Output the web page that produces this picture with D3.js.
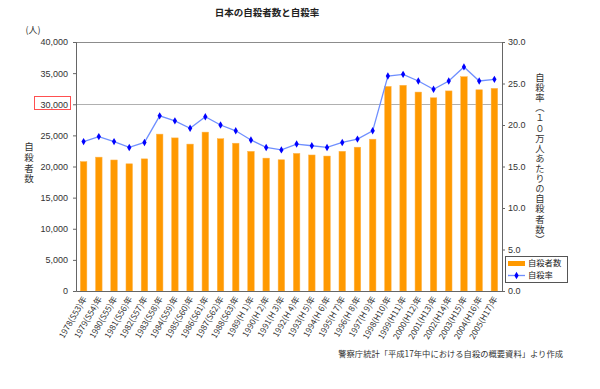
<!DOCTYPE html>
<html><head><meta charset="utf-8">
<script src="https://cdn.jsdelivr.net/npm/d3@7"></script>
<style>
body{margin:0;background:#fff;}
svg{display:block;}
text{font-family:"Liberation Sans",Arial,sans-serif;}
.jp{font-family:"Noto Sans CJK JP",sans-serif;}
</style></head>
<body><svg id="c" width="600" height="389"></svg>
<script>
const years = ["1978(S53)年","1979(S54)年","1980(S55)年","1981(S56)年","1982(S57)年","1983(S58)年","1984(S59)年","1985(S60)年","1986(S61)年","1987(S62)年","1988(S63)年","1989(H 1)年","1990(H 2)年","1991(H 3)年","1992(H 4)年","1993(H 5)年","1994(H 6)年","1995(H 7)年","1996(H 8)年","1997(H 9)年","1998(H10)年","1999(H11)年","2000(H12)年","2001(H13)年","2002(H14)年","2003(H15)年","2004(H16)年","2005(H17)年"];
const suicides = [20788,21503,21048,20434,21228,25202,24596,23599,25524,24460,23742,22436,21346,21084,22104,21851,21679,22445,23104,24391,32863,33048,31957,31042,32143,34427,32325,32552];
const rates = [18.0,18.6,18.0,17.3,17.9,21.1,20.5,19.6,21.0,20.0,19.3,18.2,17.3,17.0,17.7,17.5,17.3,17.9,18.3,19.3,25.9,26.1,25.3,24.3,25.3,27.0,25.3,25.5];
const leftTicks = [0,5000,10000,15000,20000,25000,30000,35000,40000];
const rightTicks = [0,5,10,15,20,25,30];
const title = "日本の自殺者数と自殺率";
const leftLabel = "自殺者数";
const rightLabel = "自殺率（１０万人あたりの自殺者数）";
const legendItems = ["自殺者数","自殺率"];
const source = "警察庁統計「平成17年中における自殺の概要資料」より作成";

const svg = d3.select("#c");
const L=76, R=502, T=42, B=291;
const x = d3.scaleBand().domain(years).range([L,R]).paddingInner(0.57).paddingOuter(0.285);
const yL = d3.scaleLinear().domain([0,40000]).range([B,T]);
const yR = d3.scaleLinear().domain([0,30]).range([B,T]);

// title
svg.append("text").attr("class","jp").attr("x",267).attr("y",16).attr("text-anchor","middle")
  .attr("font-size",9.5).attr("font-weight","bold").attr("fill","#222").text(title);

// top border & gridline
svg.append("line").attr("x1",L).attr("x2",R).attr("y1",T+0.5).attr("y2",T+0.5).attr("stroke","#8c8c8c");
svg.append("line").attr("x1",L).attr("x2",R).attr("y1",Math.round(yL(30000))+0.5).attr("y2",Math.round(yL(30000))+0.5).attr("stroke","#b0b0b0");

// bars
svg.append("g").selectAll("rect").data(suicides).join("rect")
  .attr("x",(d,i)=>x(years[i])).attr("width",x.bandwidth())
  .attr("y",d=>yL(d)).attr("height",d=>B-yL(d))
  .attr("fill","#ff9900").attr("stroke","#ffb54d").attr("stroke-width",0.5);

// axes
const gl = svg.append("g").attr("transform",`translate(${L},0)`)
  .call(d3.axisLeft(yL).tickValues(leftTicks).tickSize(3).tickFormat(d3.format(",")));
gl.select(".domain").attr("stroke","#666");
gl.selectAll(".tick line").attr("stroke","#666");
gl.selectAll(".tick text").attr("x",-8).attr("font-size",9).attr("fill","#333").attr("font-family","Liberation Sans, Arial, sans-serif");

const gr = svg.append("g").attr("transform",`translate(${R},0)`)
  .call(d3.axisRight(yR).tickValues(rightTicks).tickSize(3).tickFormat(d3.format(".1f")));
gr.select(".domain").attr("stroke","#666");
gr.selectAll(".tick line").attr("stroke","#666");
gr.selectAll(".tick text").attr("x",6).attr("font-size",9).attr("fill","#333").attr("font-family","Liberation Sans, Arial, sans-serif");

const gx = svg.append("g").attr("transform",`translate(0,${B})`)
  .call(d3.axisBottom(x).tickSize(0).tickFormat(""));
gx.select(".domain").attr("stroke","#666");
gx.selectAll(".tick").remove();

// x labels
svg.append("g").selectAll("text").data(years).join("text")
  .attr("class","jp")
  .attr("transform",d=>`translate(${x(d)+x.bandwidth()/2+1},${B+6}) rotate(-60)`)
  .attr("text-anchor","end").attr("dy","0.35em").attr("font-size",8.4).attr("fill","#333")
  .text(d=>d);

// line
const line = d3.line().x((d,i)=>x(years[i])+x.bandwidth()/2).y(d=>yR(d));
svg.append("path").datum(rates).attr("d",line).attr("fill","none").attr("stroke","#6f8fff").attr("stroke-width",1.3);
const diamond = d3.symbol().type(d3.symbolDiamond).size(16);
svg.append("g").selectAll("path").data(rates).join("path")
  .attr("d",diamond).attr("transform",(d,i)=>`translate(${x(years[i])+x.bandwidth()/2},${yR(d)})`)
  .attr("fill","#0000ff");

// red box around 30,000 label
svg.append("rect").attr("x",34.5).attr("y",96.5).attr("width",36).attr("height",13)
  .attr("fill","none").attr("stroke","#ff5050").attr("stroke-width",1);

// unit
svg.append("text").attr("class","jp").attr("x",33).attr("y",33).attr("text-anchor","middle")
  .attr("font-size",9).attr("fill","#333").text("(人)");

// left vertical label
svg.append("text").attr("class","jp").attr("transform","translate(29,142)")
  .attr("font-size",9.5).attr("fill","#333").attr("writing-mode","vertical-rl")
  .attr("letter-spacing","1.2px").text(leftLabel);

// right vertical label
svg.append("text").attr("class","jp").attr("transform","translate(540,73)")
  .attr("font-size",9.3).attr("fill","#333").attr("writing-mode","vertical-rl")
  .attr("letter-spacing","0.8px").text(rightLabel);

// legend
const lg = svg.append("g");
lg.append("rect").attr("x",505.5).attr("y",256.5).attr("width",62).attr("height",26).attr("fill","#fff").attr("stroke","#555");
lg.append("rect").attr("x",508).attr("y",261).attr("width",17).attr("height",5).attr("fill","#ff9900");
lg.append("line").attr("x1",508).attr("x2",525).attr("y1",275.5).attr("y2",275.5).attr("stroke","#6f8fff").attr("stroke-width",1.3);
lg.append("path").attr("d",diamond).attr("transform","translate(516.5,275.5)").attr("fill","#0000ff");
lg.selectAll("text.l").data(legendItems).join("text").attr("class","jp l")
  .attr("x",528).attr("y",(d,i)=>263.5+i*12).attr("dy","0.35em").attr("font-size",8.3).attr("fill","#222").text(d=>d);

// source
svg.append("text").attr("class","jp").attr("x",563).attr("y",357).attr("text-anchor","end")
  .attr("font-size",8.3).attr("fill","#333").text(source);
</script></body></html>
